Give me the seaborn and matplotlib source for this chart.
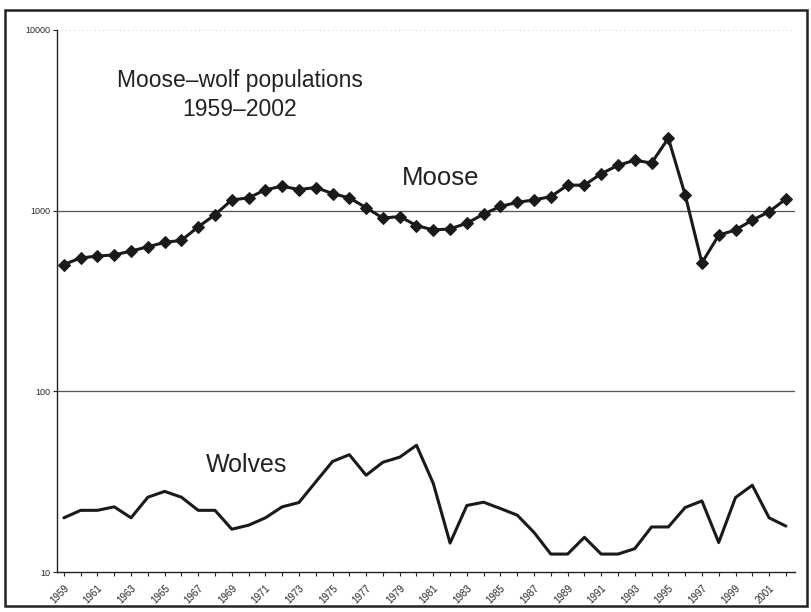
import numpy as np
import pandas as pd
import seaborn as sns
import matplotlib.pyplot as plt
from matplotlib.patches import Rectangle
from matplotlib.ticker import FixedLocator, NullFormatter, NullLocator

years = list(range(1959, 2003))

moose = [504, 548, 561, 570, 598, 632, 668, 686, 814, 950,
         1148, 1178, 1306, 1367, 1310, 1344, 1245, 1178, 1040, 910,
         929, 828, 783, 793, 853, 958, 1057, 1112, 1148, 1197,
         1385, 1385, 1603, 1783, 1902, 1837, 2520, 1224, 515, 732,
         783, 887, 987, 1161]

wolves = [20, 22, 22, 23, 20, 26, 28, 26, 22, 22,
          17.3, 18.2, 20, 23, 24.3, 31.6, 41, 44.7, 34.4, 40.6,
          43.3, 50.4, 31, 14.5, 23.4, 24.4, 22.5, 20.7, 16.6, 12.6,
          12.6, 15.6, 12.6, 12.6, 13.5, 17.8, 17.8, 22.8, 24.8, 14.6,
          25.9, 30.3, 20, 18]

df = pd.DataFrame({"year": years, "moose": moose, "wolves": wolves})

sns.set_style("white")
plt.rcParams["font.family"] = ["Liberation Sans", "DejaVu Sans"]

fig = plt.figure(figsize=(8.12, 6.12), dpi=100)
ax = fig.add_axes([0.070, 0.065, 0.909, 0.886])

# gridlines (Excel style)
for v in [100, 1000]:
    ax.axhline(v, color="#555555", lw=0.9, zorder=1)
ax.axhline(10000, color="#bbbbbb", lw=0.6, ls=(0, (1, 4)), zorder=1)

sns.lineplot(data=df, x="year", y="moose", ax=ax, color="#1a1a1a", lw=2.2,
             marker="D", markersize=6, markeredgecolor="#1a1a1a", zorder=3)
sns.lineplot(data=df, x="year", y="wolves", ax=ax, color="#1a1a1a", lw=2.2,
             zorder=3)

ax.set_yscale("log")
ax.set_ylim(10, 10000)
ax.set_xlim(1958.58, 2002.54)

ax.yaxis.set_major_locator(FixedLocator([10, 100, 1000, 10000]))
ax.yaxis.set_minor_locator(NullLocator())
ax.set_yticklabels(["10", "100", "1000", "10000"], fontsize=6.5)

ax.xaxis.set_major_locator(FixedLocator(years[::2]))
ax.xaxis.set_minor_locator(FixedLocator(years[1::2]))
ax.xaxis.set_minor_formatter(NullFormatter())
ax.set_xticklabels([str(y) for y in years[::2]], rotation=45, fontsize=7,
                   ha="right", va="top", rotation_mode="anchor")

ax.tick_params(axis="both", which="both", direction="out", length=3,
               width=0.8, color="#222222", pad=2, left=True, bottom=True)
ax.tick_params(axis="x", pad=5)

ax.set_xlabel("")
ax.set_ylabel("")
for side in ["top", "right"]:
    ax.spines[side].set_visible(False)
for side in ["left", "bottom"]:
    ax.spines[side].set_color("#222222")
    ax.spines[side].set_linewidth(1.0)

fig.text(240 / 812, 1 - 95 / 612, "Moose–wolf populations\n1959–2002",
         fontsize=16.5, ha="center", va="center", color="#222222",
         linespacing=1.3)
fig.text(402 / 812, 1 - 178 / 612, "Moose", fontsize=18.5, ha="left",
         va="center", color="#222222")
fig.text(206 / 812, 1 - 465 / 612, "Wolves", fontsize=18, ha="left",
         va="center", color="#222222")

# outer frame
fig.patches.append(Rectangle((5 / 812, 6 / 612), 802 / 812, 596 / 612,
                             transform=fig.transFigure, fill=False,
                             edgecolor="#222222", lw=1.8))

fig.savefig("out.png", dpi=100)
